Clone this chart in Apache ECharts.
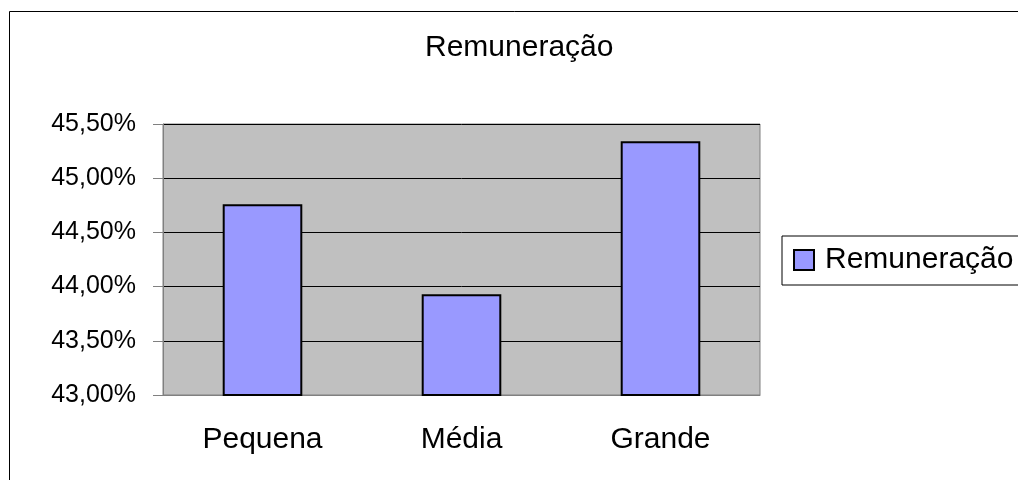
<!DOCTYPE html>
<html style="height: 100%">
<head>
    <meta charset="utf-8">
</head>
<body style="height: 100%; margin: 0; background: #fff">
<div id="container" style="width: 1018px; height: 480px"></div>
<script src="https://cdn.jsdelivr.net/npm/echarts@6/dist/echarts.min.js"></script>
<script type="text/javascript">
    var categorias = ['Pequena', 'Média', 'Grande'];
    var remuneracao = [44.76, 43.93, 45.34];
    var nomeSerie = 'Remuneração';

    var dom = document.getElementById("container");
    var myChart = echarts.init(dom);
    var fonte = 'Liberation Sans, Arial, sans-serif';

    var option = {
        backgroundColor: '#ffffff',
        animation: false,
        title: {
            text: 'Remuneração',
            left: 420,
            top: 28,
            textStyle: { fontFamily: fonte, fontSize: 30, fontWeight: 'normal', color: '#000' }
        },
        legend: {
            data: [nomeSerie],
            left: 782,
            top: 236,
            orient: 'vertical',
            icon: 'rect',
            itemWidth: 20,
            itemHeight: 20,
            padding: [9, 40, 10, 11],
            borderColor: '#000',
            borderWidth: 1,
            backgroundColor: '#fff',
            textStyle: { fontFamily: fonte, fontSize: 30, color: '#000', padding: [0, 0, 0, 6] }
        },
        grid: {
            left: 163,
            right: 258,
            top: 124,
            bottom: 85,
            show: true,
            backgroundColor: '#c0c0c0',
            borderColor: '#808080',
            borderWidth: 1
        },
        xAxis: {
            type: 'category',
            data: categorias,
            axisLine: { lineStyle: { color: '#808080', width: 1 } },
            axisTick: { length: 10, lineStyle: { color: '#808080' } },
            axisLabel: { fontFamily: fonte, fontSize: 30, color: '#000', margin: 30 }
        },
        yAxis: {
            type: 'value',
            min: 43,
            max: 45.5,
            interval: 0.5,
            axisLine: { show: true, lineStyle: { color: '#808080', width: 1 } },
            axisTick: { show: true, length: 10, lineStyle: { color: '#808080' } },
            splitLine: { lineStyle: { color: '#000', width: 1 } },
            axisLabel: {
                fontFamily: fonte, fontSize: 25, color: '#000', margin: 27,
                formatter: function (v) { return v.toFixed(2).replace('.', ',') + '%'; }
            }
        },
        series: [{
            name: nomeSerie,
            type: 'bar',
            data: remuneracao,
            barWidth: '40%',
            itemStyle: { color: '#9999ff', borderColor: '#000', borderWidth: 2 }
        }],
        graphic: [{
            type: 'rect',
            left: 7,
            top: 9,
            shape: { width: 1030, height: 500 },
            style: { fill: 'none', stroke: '#000', lineWidth: 1 },
            z: -10
        }]
    };
    myChart.setOption(option);
</script>
</body>
</html>
